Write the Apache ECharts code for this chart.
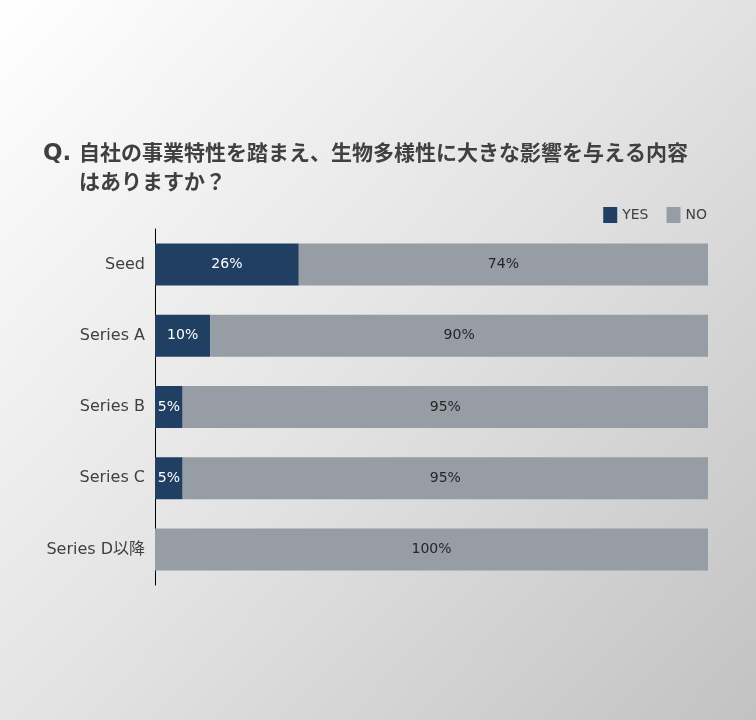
<!DOCTYPE html>
<html>
<head>
<meta charset="utf-8">
<title>生物多様性</title>
<script src="https://cdn.jsdelivr.net/npm/echarts@6/dist/echarts.min.js"></script>
<style>
  html, body { margin: 0; padding: 0; }
  #main { width: 756px; height: 720px; }
</style>
</head>
<body>
<div id="main"></div>
<script>
// データ
var categories = ['Seed', 'Series A', 'Series B', 'Series C', 'Series D以降'];
var yesValues = [26, 10, 5, 5, 0];
var noValues = [74, 90, 95, 95, 100];

var FONT = '"DejaVu Sans", "Noto Sans CJK JP", sans-serif';
var chart = echarts.init(document.getElementById('main'));

chart.setOption({
    backgroundColor: new echarts.graphic.LinearGradient(0, 0, 1, 1, [
        { offset: 0, color: '#ffffff' },
        { offset: 0.5, color: '#e3e3e3' },
        { offset: 1, color: '#c2c2c2' }
    ]),
    title: [{
        text: 'Q.',
        left: 38, top: 138,
        textStyle: { fontFamily: FONT, fontSize: 23, fontWeight: 'bold', color: '#404040' }
    }, {
        text: '自社の事業特性を踏まえ、生物多様性に大きな影響を与える内容\nはありますか？',
        left: 74, top: 135,
        textStyle: { fontFamily: FONT, fontSize: 21, fontWeight: 'bold', color: '#404040', lineHeight: 29 }
    }],
    legend: {
        right: 44, top: 202,
        itemWidth: 14, itemHeight: 16, itemGap: 18,
        icon: 'rect',
        textStyle: { fontFamily: FONT, fontSize: 14, color: '#404040' },
        data: ['YES', 'NO']
    },
    grid: { left: 155, right: 48, top: 229, bottom: 135, containLabel: false },
    xAxis: {
        type: 'value', min: 0, max: 100, show: false
    },
    yAxis: {
        type: 'category',
        inverse: true,
        data: categories,
        axisLine: { show: true, lineStyle: { color: '#000000', width: 1 } },
        axisTick: { show: false },
        axisLabel: { fontFamily: FONT, fontSize: 16, color: '#404040', margin: 10 }
    },
    series: [{
        name: 'YES', type: 'bar', stack: 'a', barWidth: 42,
        itemStyle: { color: '#203f63' },
        label: {
            show: true, color: '#ffffff', fontFamily: FONT, fontSize: 14,
            formatter: function (p) { return p.value > 0 ? p.value + '%' : ''; }
        },
        data: yesValues
    }, {
        name: 'NO', type: 'bar', stack: 'a', barWidth: 42,
        itemStyle: { color: '#969da4' },
        label: {
            show: true, color: '#262626', fontFamily: FONT, fontSize: 14,
            formatter: '{c}%'
        },
        data: noValues
    }]
});
</script>
</body>
</html>
